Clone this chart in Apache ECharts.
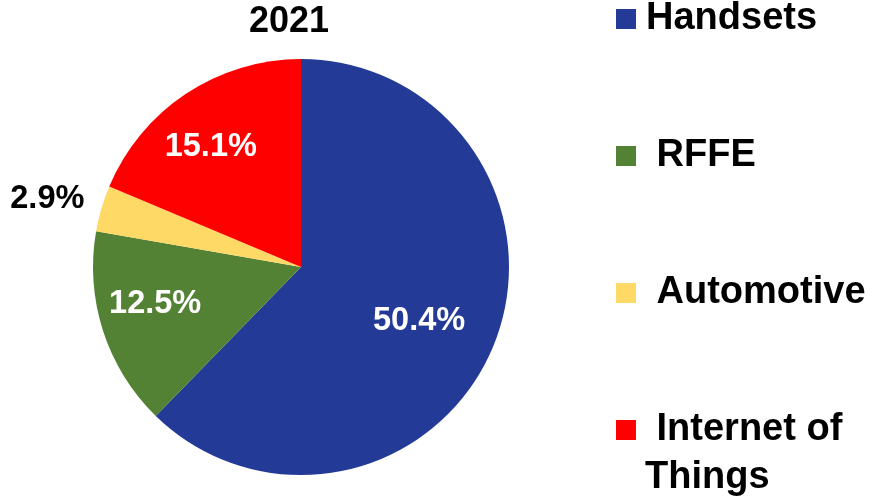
<!DOCTYPE html>
<html>
<head>
<meta charset="utf-8">
<script src="https://cdn.jsdelivr.net/npm/echarts@6/dist/echarts.min.js"></script>
<style>
html,body{margin:0;padding:0;background:#fff;}
#chart{width:872px;height:497px;}
</style>
</head>
<body>
<div id="chart"></div>
<script>
const title = '2021';
const categories = ['Handsets', 'RFFE', 'Automotive', 'Internet of Things'];
const values = [50.4, 12.5, 2.9, 15.1];
const colors = ['#243A97', '#548235', '#FFD966', '#FF0000'];
const labelColors = ['#ffffff', '#ffffff', '#000000', '#ffffff'];
const labelShift = [[19, 14], [-44, 4], [-151, -38], [-31, -31]];

const FONT = '"Liberation Sans", Arial, sans-serif';
const chart = echarts.init(document.getElementById('chart'), null, {renderer: 'canvas'});

chart.setOption({
  animation: false,
  backgroundColor: '#ffffff',
  title: {
    text: title,
    left: 289,
    top: 4,
    textAlign: 'center',
    padding: 0,
    textStyle: {fontFamily: FONT, fontWeight: 'bold', fontSize: 36, color: '#000'}
  },
  legend: {
    orient: 'vertical',
    left: 616,
    top: 0,
    padding: 0,
    itemWidth: 20,
    itemHeight: 20,
    itemGap: 99,
    icon: 'rect',
    selectedMode: false,
    data: categories,
    formatter: function (name) {
      if (name === 'Handsets') return name;
      if (name === 'Internet of Things') return ' Internet of';
      return ' ' + name;
    },
    textStyle: {fontFamily: FONT, fontWeight: 'bold', fontSize: 38, lineHeight: 32, color: '#000', padding: [0, 0, 0, 5]}
  },
  graphic: [{
    type: 'text',
    left: 645,
    top: 459,
    style: {text: 'Things', fontFamily: FONT, fontWeight: 'bold', fontSize: 38, fill: '#000'}
  }],
  series: [{
    type: 'pie',
    center: [301, 267],
    radius: 208,
    startAngle: 90,
    clockwise: true,
    silent: true,
    emphasis: {disabled: true},
    label: {
      show: true,
      position: 'inside',
      fontFamily: FONT,
      fontWeight: 'bold',
      fontSize: 32.5,
      formatter: function (p) { return values[p.dataIndex].toFixed(1) + '%'; }
    },
    labelLine: {show: false},
    labelLayout: function (p) {
      return {dx: labelShift[p.dataIndex][0], dy: labelShift[p.dataIndex][1]};
    },
    data: categories.map(function (c, i) {
      return {
        name: c,
        value: values[i],
        itemStyle: {color: colors[i]},
        label: {color: labelColors[i]}
      };
    })
  }]
});
</script>
</body>
</html>
